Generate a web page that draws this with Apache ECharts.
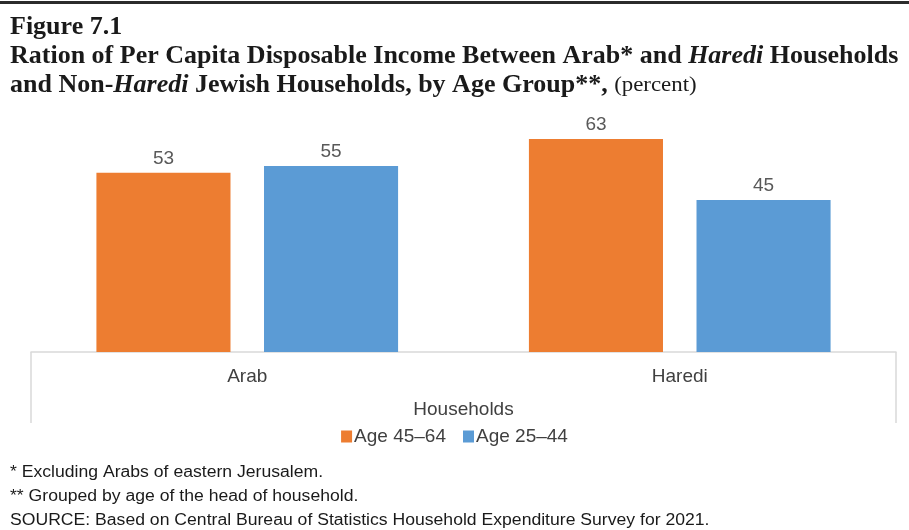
<!DOCTYPE html>
<html><head><meta charset="utf-8">
<script src="https://cdn.jsdelivr.net/npm/echarts@6/dist/echarts.min.js"></script>
<style>html,body{margin:0;padding:0;background:#fff}#c{width:909px;height:530px}</style>
</head><body><div id="c"></div>
<script>
const categories = ['Arab', 'Haredi'];
const seriesNames = ['Age 45\u201364', 'Age 25\u201344'];
const age4564 = [53, 63];
const age2544 = [55, 45];
const axisName = 'Households';
const footnotes = [
  '* Excluding Arabs of eastern Jerusalem.',
  '** Grouped by age of the head of household.',
  'SOURCE: Based on Central Bureau of Statistics Household Expenditure Survey for 2021.'
];

const chart = echarts.init(document.getElementById('c'));
const serif = '"Liberation Serif", "Times New Roman", serif';
const sans = '"Liberation Sans", Arial, sans-serif';
const labelStyle = {show: true, position: 'top', distance: 5, color: '#595959', fontSize: 19, fontFamily: sans};
const tf = {fontFamily: serif, fontSize: 25, fill: '#1a1a1a', lineHeight: 29};

chart.setOption({
  animation: false,
  legend: {
    data: seriesNames,
    left: 'center', top: 422,
    itemWidth: 11, itemHeight: 12, itemGap: 17,
    icon: 'rect',
    textStyle: {fontFamily: sans, fontSize: 19, color: '#404040', padding: [0, 0, 0, -3]}
  },
  grid: {left: 31, right: 13, top: 115.4, bottom: 178, containLabel: false},
  xAxis: {
    type: 'category', data: categories,
    axisLine: {show: true, lineStyle: {color: '#d9d9d9', width: 1.5}},
    axisTick: {show: false},
    axisLabel: {color: '#404040', fontSize: 19, fontFamily: sans, margin: 15},
    name: axisName, nameLocation: 'middle', nameGap: 48,
    nameTextStyle: {color: '#404040', fontSize: 19, fontFamily: sans}
  },
  yAxis: {type: 'value', min: 0, max: 70, show: false, splitLine: {show: false}},
  series: [
    {name: seriesNames[0], type: 'bar', data: age4564, barWidth: '31%', barGap: '25%',
     itemStyle: {color: '#ed7d31'}, label: labelStyle},
    {name: seriesNames[1], type: 'bar', data: age2544, barWidth: '31%', barGap: '25%',
     itemStyle: {color: '#5b9bd5'}, label: labelStyle}
  ],
  graphic: [
    {type: 'rect', shape: {x: 0, y: 1, width: 909, height: 3}, style: {fill: '#2b2b2b'}, silent: true},
    {type: 'line', shape: {x1: 31, y1: 352, x2: 31, y2: 423}, style: {stroke: '#d9d9d9', lineWidth: 1.5}, silent: true},
    {type: 'line', shape: {x1: 896, y1: 352, x2: 896, y2: 423}, style: {stroke: '#d9d9d9', lineWidth: 1.5}, silent: true},
    {type: 'text', x: 10, y: 13, scaleX: 1.04, silent: true,
     style: {
       text: '{b|Figure 7.1}\n{b|Ration of Per Capita Disposable Income Between Arab* and }{bi|Haredi}{b| Households}\n{b|and Non-}{bi|Haredi}{b| Jewish Households, by Age Group**, }{n|(percent)}',
       x: 0, y: 0, verticalAlign: 'top', fontFamily: serif, fontSize: 25, fill: '#1a1a1a',
       rich: {
         b: Object.assign({fontWeight: 'bold'}, tf),
         bi: Object.assign({fontWeight: 'bold', fontStyle: 'italic'}, tf),
         n: Object.assign({fontWeight: 'normal'}, tf, {fontSize: 22})
       }
     }},
    {type: 'text', x: 10, y: 461, scaleX: 1.1, silent: true,
     style: {text: footnotes.join('\n'), x: 0, y: 0, verticalAlign: 'top',
       fontFamily: sans, fontSize: 16, fill: '#1a1a1a', lineHeight: 24}}
  ]
});
</script></body></html>
